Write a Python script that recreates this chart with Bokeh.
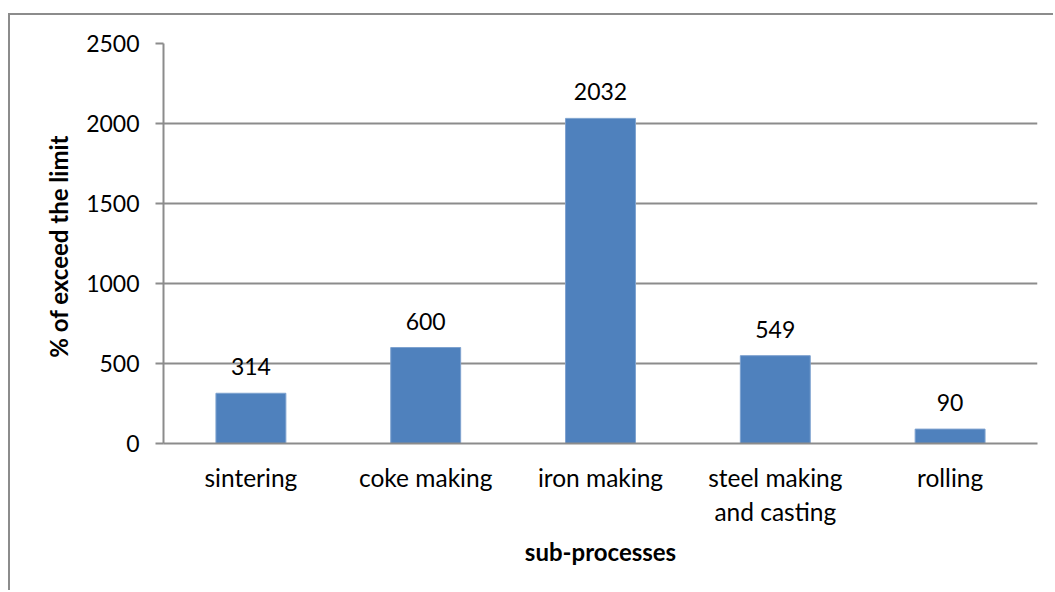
from bokeh.plotting import figure
from bokeh.models import ColumnDataSource, LabelSet, Range1d, FixedTicker, FactorRange
from bokeh.core.properties import value
from bokeh.embed import file_html
from bokeh.resources import INLINE

categories = ["sintering", "coke making", "iron making", "steel making\nand casting", "rolling"]
values = [314, 600, 2032, 549, 90]
y_ticks = [0, 500, 1000, 1500, 2000, 2500]
x_title = "sub-processes"
y_title = "% of exceed  the limit"

FONT = "Lato"
FS = "23px"
GRAY = "#8c8c8c"

src = ColumnDataSource(dict(cat=categories, val=values, lab=[str(v) for v in values]))

W, H = 1045, 577
p = figure(x_range=FactorRange(*categories), y_range=Range1d(0, 2500),
           width=W, height=H, output_backend="svg", toolbar_location=None,
           min_border_left=153, min_border_right=18, min_border_top=28, min_border_bottom=149)
p.styles = {"margin-left": "8px", "margin-top": "13px",
            "border-left": "2px solid #8c8c8c", "border-top": "2px solid #8c8c8c"}
p.outline_line_color = None
p.background_fill_color = "white"
p.border_fill_color = "white"

p.vbar(x="cat", top="val", width=0.4, source=src, fill_color="#4F81BD", line_color="#7ea2cf", line_width=1)

labels = LabelSet(x="cat", y="val", text="lab", source=src, text_align="center",
                  text_baseline="alphabetic", y_offset=18, text_font=value(FONT),
                  text_font_size=value(FS), text_color="black")
p.add_layout(labels)

p.xgrid.grid_line_color = None
p.ygrid.grid_line_color = GRAY
p.ygrid.grid_line_width = 2
p.ygrid.ticker = FixedTicker(ticks=y_ticks)

p.yaxis.ticker = FixedTicker(ticks=y_ticks)
p.yaxis.minor_tick_line_color = None
p.yaxis.major_tick_in = 0
p.yaxis.major_tick_out = 8
p.yaxis.major_label_standoff = 16
p.yaxis.axis_label = y_title
p.yaxis.axis_label_standoff = 10

p.xaxis.major_tick_line_color = None
p.xaxis.major_tick_in = 0
p.xaxis.major_tick_out = 0
p.xaxis.major_label_standoff = 19
p.xaxis.axis_label = x_title
p.xaxis.axis_label_standoff = 8

for ax in (p.xaxis[0], p.yaxis[0]):
    ax.axis_line_color = GRAY
    ax.axis_line_width = 2
    ax.major_tick_line_color = GRAY if ax is p.yaxis[0] else None
    ax.major_tick_line_width = 2
    ax.major_label_text_font = FONT
    ax.major_label_text_font_size = FS
    ax.major_label_text_color = "black"
    ax.axis_label_text_font = FONT
    ax.axis_label_text_font_size = "24px"
    ax.axis_label_text_font_style = "bold"
    ax.axis_label_text_color = "black"
p.xaxis.major_label_text_font_size = "24.5px"

open("out.html", "w").write(file_html(p, INLINE))
